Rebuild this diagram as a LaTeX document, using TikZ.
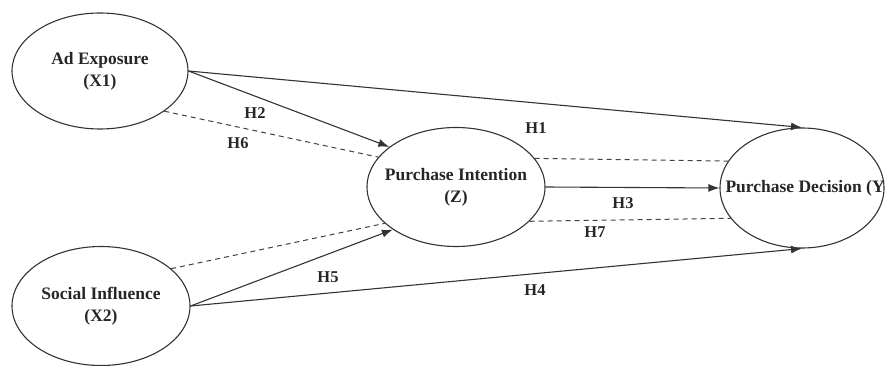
\documentclass[tikz,border=0pt]{standalone}
\usepackage{fontspec}
\setmainfont{Liberation Serif}
\usetikzlibrary{shapes.geometric,arrows.meta}

\begin{document}
\begin{tikzpicture}
        [x=1pt,y=-1pt,%%%%%%%%%%%%%%%%%%%%%%%%%%%%%%
        latent/.style={ellipse,draw=black!80,line width=1.1pt,inner sep=0pt,
          minimum width=178pt,minimum height=119pt},
        txt/.style={font=\fontsize{17.5}{22}\selectfont\bfseries,align=center,text=black!85},
        hyp/.style={font=\fontsize{16.5}{18}\selectfont\bfseries,text=black!85},
        arr/.style={draw=black!80,line width=1.1pt,-{Latex[length=11pt,width=8pt]}},
        link/.style={draw=black!75,line width=1pt,dash pattern=on 5pt off 4pt},
        ]%%%%%%%%%%%%%%%%%%%%%%%%%%%%%%
        \useasboundingbox (0,0) rectangle (885,366);

        \node[latent,minimum width=176pt,minimum height=116pt,
          label={[txt]center:Ad Exposure\\(X1)}] (x1) at (100,71) {};
        \node[latent,label={[txt]center:Social Influence\\(X2)}] (x2) at (101,306) {};
        \node[latent,label={[txt]center:Purchase Intention\\(Z)}] (z) at (456,187) {};
        \node[latent,minimum width=164pt,minimum height=120pt,
          label={[txt,xshift=6pt]center:Purchase Decision (Y)}] (y) at (802,188) {};

        % direct paths
        \draw[arr] (x1.east) -- (y.north);
        \draw[arr] (x1.east) -- (z.149);
        \draw[arr] (z.east) -- (y.west);
        \draw[arr] (x2.east) -- (z.214);
        \draw[arr] (x2.east) -- (y.south);

        % mediated paths
        \draw[link] (x1.-32) -- (z.159);
        \draw[link] (x2.28) -- (z.207);
        \draw[link] (z.20) -- (y.160);
        \draw[link] (z.-25) -- (y.203);

        \foreach \name/\x/\y in {1/536/128,2/255/113,3/623/203,4/535/290,5/328/277,6/238/143,7/595/232}
          \node[hyp] (h\name) at (\x,\y) {H\name};

      \end{tikzpicture}
\end{document}
